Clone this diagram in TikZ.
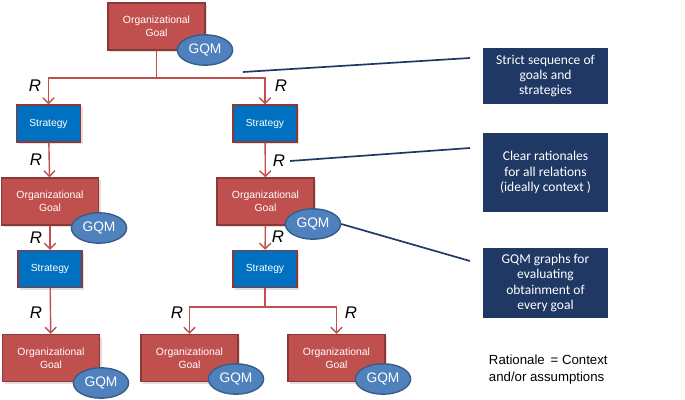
\documentclass[tikz,border=0pt]{standalone}
\usepackage{fontspec}
\setmainfont{Liberation Sans}
\newfontfamily\calfont{Carlito}
\usetikzlibrary{arrows.meta,shadows,shapes.geometric}

\definecolor{goalred}{RGB}{192,80,77}
\definecolor{goaledge}{RGB}{140,56,54}
\definecolor{stratblue}{RGB}{0,112,192}
\definecolor{gqmblue}{RGB}{79,129,189}
\definecolor{gqmedge}{RGB}{56,93,138}
\definecolor{navy}{RGB}{31,56,100}

\begin{document}
\begin{tikzpicture}[x=0.025cm, y=-0.025cm,
  goal/.style={draw=goaledge, line width=1pt, fill=goalred, text=white, minimum width=2.425cm, minimum height=1.175cm, align=center, font=\fontsize{7.4}{9}\selectfont, drop shadow={opacity=0.25, shadow xshift=1.5pt, shadow yshift=-1.5pt}},
  strat/.style={draw=goaledge, line width=1pt, fill=stratblue, text=white, minimum width=1.6cm, minimum height=0.925cm, font=\fontsize{7.3}{9}\selectfont, drop shadow={opacity=0.25, shadow xshift=1.5pt, shadow yshift=-1.5pt}},
  gqm/.style={ellipse, draw=gqmedge, line width=1pt, fill=gqmblue, text=white, minimum width=1.38cm, minimum height=0.76cm, inner sep=0pt, font=\fontsize{9.8}{11}\selectfont},
  note/.style={fill=navy, text=white, minimum width=3.125cm, align=center, font=\calfont\fontsize{9.6}{10.8}\selectfont},
  rel/.style={font=\fontsize{12}{14}\selectfont\itshape},
  rarrow/.style={draw=goalred, line width=1pt, -{Straight Barb[length=4pt, width=8pt]}},
  link/.style={draw=navy, line width=1.2pt}
]
\useasboundingbox (0,0) rectangle (685,400);

% Top goal
\node[goal] (g0) at (156.5,26.5) {Organizational\\Goal};
\node[gqm] (q0) at (205,50) {GQM};

% Strategies, first level
\node[strat] (s1) at (48.5,123.5) {Strategy};
\node[strat] (s2) at (265,123.5) {Strategy};

% Goals, second level
\node[goal] (g1) at (50,201.5) {Organizational\\Goal};
\node[gqm] (q1) at (99,228) {GQM};
\node[goal] (g2) at (265.5,201.5) {Organizational\\Goal};
\node[gqm] (q2) at (313,224) {GQM};

% Strategies, second level
\node[strat] (s3) at (50,269) {Strategy};
\node[strat] (s4) at (265,269) {Strategy};

% Goals, bottom level
\node[goal] (g3) at (51,358) {Organizational\\Goal};
\node[gqm] (q3) at (101,383) {GQM};
\node[goal] (g4) at (189.5,358) {Organizational\\Goal};
\node[gqm] (q4) at (236,379) {GQM};
\node[goal] (g5) at (336.5,358) {Organizational\\Goal};
\node[gqm] (q5) at (383,379) {GQM};

% Relations
\coordinate (j0) at (156.5,78);
\coordinate (j1) at (265,307);
\draw[rarrow] (g0.south) -- (j0) -| (s1.north);
\draw[rarrow] (j0) -| (s2.north);
\draw[rarrow] (s1) -- (g1);
\draw[rarrow] (s2) -- (g2);
\draw[rarrow] (g1) -- (s3);
\draw[rarrow] (g2) -- (s4);
\draw[rarrow] (s3) -- (g3);
\draw[rarrow] (s4.south) -- (j1) -| (g4.north);
\draw[rarrow] (j1) -| (g5.north);

\node[rel] (r1) at (35,86) {R};
\node[rel] (r2) at (281,86) {R};
\node[rel] (r3) at (36,160) {R};
\node[rel] (r4) at (279,161) {R};
\node[rel] (r5) at (36,238) {R};
\node[rel] (r6) at (278,237) {R};
\node[rel] (r7) at (36,313) {R};
\node[rel] (r8) at (177,313) {R};
\node[rel] (r9) at (351,313) {R};

% Notes
\node[note, minimum height=1.4cm] (n1) at (545.5,76) {Strict sequence of\\goals and\\strategies};
\node[note, minimum height=1.975cm] (n2) at (545.5,172.5) {Clear rationales\\for all relations\\(ideally context )};
\node[note, minimum height=1.75cm] (n3) at (545.5,283) {GQM graphs for\\evaluating\\obtainment of\\every goal};

\coordinate (e0) at (243,72);
\coordinate (e1) at (470,58);
\coordinate (e2) at (470,148);
\coordinate (e3) at (470,261);
\draw[link] (e0) -- (e1);
\draw[link] (r4.east) -- (e2);
\draw[link] (q2.east) -- (e3);

\node[align=left, anchor=north west, font=\fontsize{9.4}{12}\selectfont] (key) at (484,350) {Rationale \,= Context\\and/or assumptions};
\end{tikzpicture}
\end{document}
